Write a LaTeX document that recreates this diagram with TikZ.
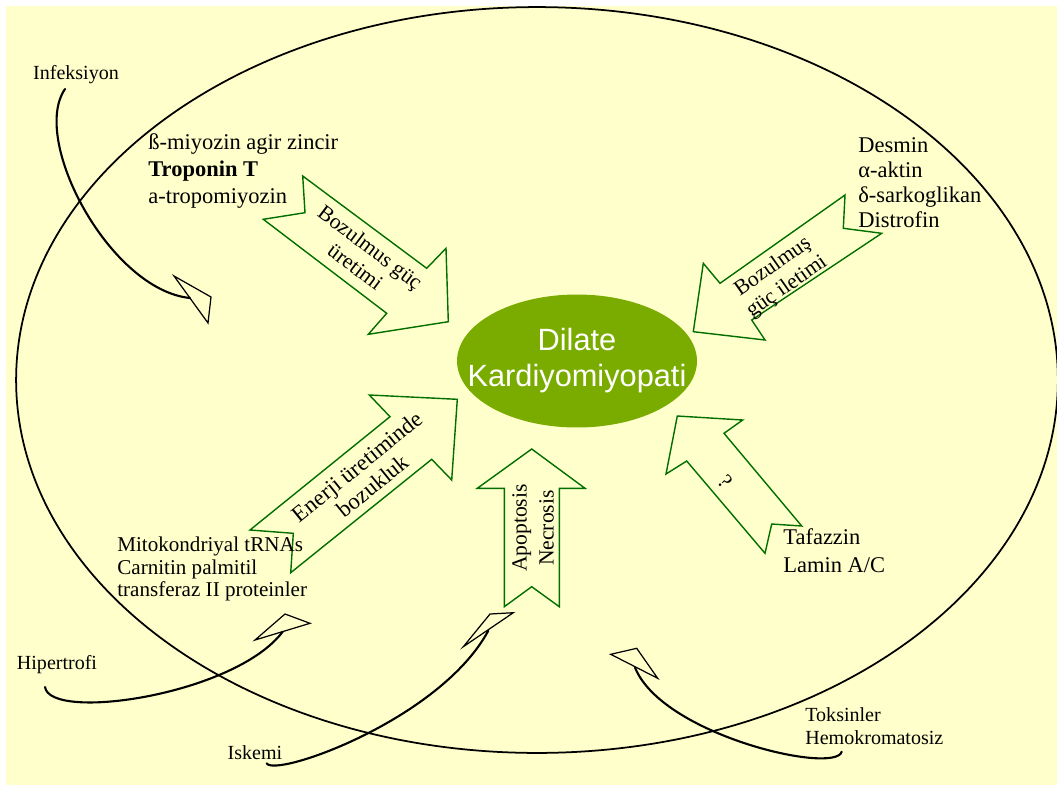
\documentclass[tikz,border=0pt]{standalone}
\usepackage{fontspec}
\setmainfont{Liberation Serif}
\newfontfamily\arialfont{Liberation Sans}
\usepackage{xcolor}
\usetikzlibrary{shapes.geometric, positioning}

\definecolor{bgyellow}{RGB}{255,255,204}
\definecolor{arrowgreen}{RGB}{0,110,0}
\definecolor{dcmgreen}{RGB}{122,172,0}

\begin{document}
\begin{tikzpicture}[
    x=0.02cm, y=-0.02cm,
    blockarrow/.style={draw=arrowgreen, fill=bgyellow, line width=0.8pt, line join=miter},
    arrowtext/.style={font=\fontsize{12.3}{14}\selectfont, align=center, inner sep=0pt},
    listtext/.style={font=\fontsize{12.8}{#1}\selectfont, align=left, anchor=west, inner sep=0pt},
    cause/.style={font=\fontsize{11.4}{13}\selectfont, align=left, inner sep=0pt},
    causeline/.style={line width=1.2pt, line cap=round},
    causehead/.style={line width=0.7pt, line join=miter}
]
\useasboundingbox (0,0) rectangle (1057,788);
\fill[white] (0,0) rectangle (1057,788);
\fill[bgyellow] (6,6) rectangle (1057,785);

% outer cell
\draw[line width=1pt] (537,380) ellipse [x radius=10.42cm, y radius=7.46cm];

% block arrows
\draw[blockarrow] (263.3,219.3) -- (305,212.7) -- (302.7,176) -- (426.7,268.3) -- (446,248.3)
    -- (448.3,321.7) -- (368.3,334.3) -- (386.7,313.3) -- cycle;
\draw[blockarrow] (845,195) -- (843.3,228.3) -- (881.7,233.3) -- (751.7,320) -- (765,340)
    -- (693.3,331.7) -- (703.3,263.3) -- (720,283.3) -- cycle;
\draw[blockarrow] (250,530) -- (293.3,533.3) -- (290.7,572.7) -- (431.7,459.3) -- (451.7,480)
    -- (457.3,399.3) -- (369.3,395) -- (390,416.7) -- cycle;
\draw[blockarrow] (531.7,449) -- (585,488.3) -- (559.3,488.3) -- (559.3,606.7) -- (531.7,586.7)
    -- (504.3,606.7) -- (504.3,488.3) -- (477.3,488.3) -- cycle;
\draw[blockarrow] (677.3,416) -- (742.7,420) -- (724,433.3) -- (801.7,526) -- (771.7,524)
    -- (765,553.3) -- (686.7,461) -- (666,474) -- cycle;

\node[arrowtext, rotate=-37] (uretim) at (363,257) {Bozulmus güç\\üretimi};
\node[arrowtext, rotate=35] (iletim) at (780,277) {Bozulmuş\\güç iletimi};
\node[arrowtext, rotate=39, font=\fontsize{13}{14}\selectfont] (enerji) at (365,476) {Enerji üretiminde\\bozukluk};
\node[arrowtext, rotate=90, font=\fontsize{12.3}{15.3}\selectfont] (apop) at (533,528) {Apoptosis\\Necrosis};
\node[arrowtext, rotate=-50] (soru) at (725,482) {?};

% center
\node[ellipse, fill=dcmgreen, minimum width=4.8cm, minimum height=2.66cm, inner sep=0pt] (dcm) at (577,361) {};
\node[text=white, align=center, inner sep=0pt, font=\arialfont\fontsize{17.5}{20.5}\selectfont] (dcmtext) at (dcm.center)
    {Dilate\\Kardiyomiyopati};

% gene lists
\node[listtext=15.3] (sarkomer) at (148,171) {ß-miyozin agir zincir\\\textbf{Troponin T}\\a-tropomiyozin};
\node[listtext=14.2] (sitoiskelet) at (858,183) {Desmin\\α-aktin\\δ-sarkoglikan\\Distrofin};
\node[listtext=13, font=\fontsize{12}{13}\selectfont] (mito) at (117,569) {Mitokondriyal tRNAs\\Carnitin palmitil\\transferaz II proteinler};
\node[listtext=15.9] (tafazzin) at (783,551) {Tafazzin\\Lamin A/C};

% causes
\node[cause] (infeksiyon) at (76,75) {Infeksiyon};
\node[cause] (hipertrofi) at (57,665) {Hipertrofi};
\node[cause] (iskemi) at (255,753) {Iskemi};
\node[cause, anchor=west] (toksin) at (805,726) {Toksinler\\Hemokromatosiz};

\coordinate (infS) at (65,89);
\coordinate (infE) at (190,298);
\coordinate (hipS) at (45,687);
\coordinate (hipE) at (282.7,631.7);
\coordinate (iskS) at (266.7,763.3);
\coordinate (iskE) at (488.3,630.7);
\coordinate (tokS) at (841.7,751.7);
\coordinate (tokE) at (635,667.5);

\draw[causeline] (infS) .. controls (30,140) and (110,290) .. (infE);
\draw[causehead] (174,276) -- (211,297) -- (208,323) -- cycle;
\draw[causeline] (hipS) .. controls (50,722) and (235,695) .. (hipE);
\draw[causehead] (255,640) -- (285,614) -- (310,623.3) -- cycle;
\draw[causeline] (iskS) .. controls (275,778) and (440,720) .. (iskE);
\draw[causehead] (463.3,646.7) -- (490,614) -- (513.3,612.7) -- cycle;
\draw[causeline] (tokS) .. controls (835,775) and (662,735) .. (tokE);
\draw[causehead] (610.7,654.3) -- (636.7,648.3) -- (657.7,678.3) -- cycle;
\end{tikzpicture}
\end{document}
